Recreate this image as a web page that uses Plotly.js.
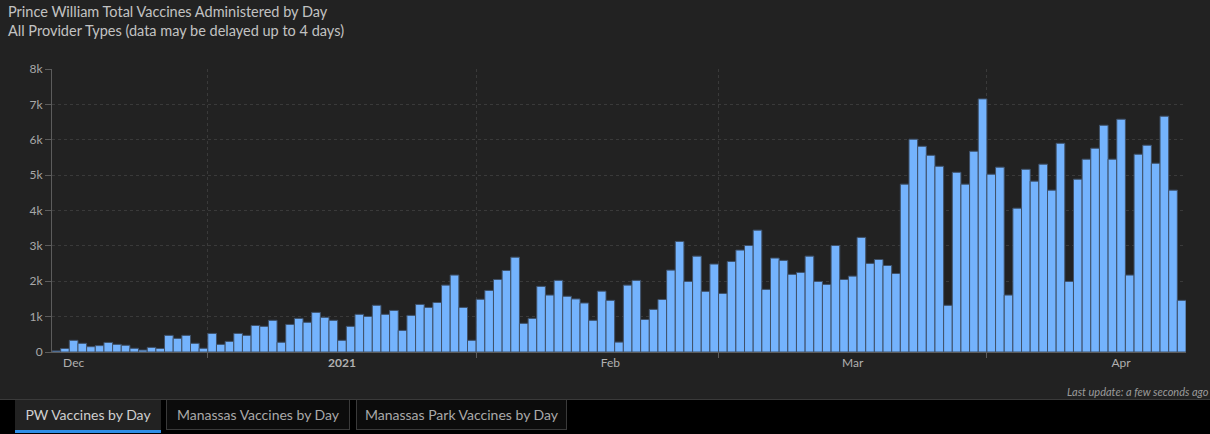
<!DOCTYPE html>
<html>
<head>
<meta charset="utf-8">
<script src="https://cdn.plot.ly/plotly-3.0.1.min.js"></script>
<style>
  html, body { margin: 0; padding: 0; background: #000; width: 1210px; height: 434px; overflow: hidden; font-family: Lato, "Open Sans", sans-serif; }
  #chart { position: absolute; left: 0; top: 0; width: 1210px; height: 399px; background: #222; border-bottom: 1px solid #3a3a3a; }
  .tab { position: absolute; top: 400px; height: 30px; line-height: 30px; text-align: center; font-size: 14px; box-sizing: border-box; }
  #tab1 { left: 15px; width: 146px; background: #222; color: #cfcfcf; border-bottom: 3px solid #2f8fe8; height: 33px; }
  #tab2 { left: 166px; width: 184px; background: #0c0c0c; color: #a9a9a9; border: 1px solid #3a3a3a; border-top: none; }
  #tab3 { left: 356px; width: 211px; background: #0c0c0c; color: #a9a9a9; border: 1px solid #3a3a3a; border-top: none; }
</style>
</head>
<body>
<div id="chart"></div>
<div class="tab" id="tab1">PW Vaccines by Day</div>
<div class="tab" id="tab2">Manassas Vaccines by Day</div>
<div class="tab" id="tab3">Manassas Park Vaccines by Day</div>
<script>
// ---- data (daily vaccine doses administered) ----
const startDate = '2020-12-14';
const dec2020 = [30, 100, 330, 245, 150, 180, 270, 215, 190, 105, 55, 130, 100, 470, 385, 470, 245, 105];
const jan2021 = [525, 215, 300, 525, 470, 750, 725, 895, 275, 780, 950, 840, 1120, 980, 895, 330, 725, 1065, 1005, 1320, 1065, 1175, 610, 1035, 1345, 1260, 1400, 1890, 2175, 1260, 330];
const feb2021 = [1490, 1740, 2050, 2305, 2680, 810, 950, 1855, 1610, 2025, 1575, 1500, 1385, 895, 1720, 1460, 280, 1890, 2025, 920, 1205, 1485, 2315, 3125, 1995, 2710, 1715, 2485];
const mar2021 = [1655, 2560, 2880, 3010, 3445, 1770, 2655, 2590, 2195, 2250, 2710, 1995, 1910, 3010, 2050, 2145, 3240, 2505, 2615, 2445, 2220, 4745, 6015, 5815, 5560, 5250, 1320, 5080, 4745, 5675, 7155];
const apr2021 = [5025, 5225, 1610, 4065, 5165, 4830, 5310, 4575, 5900, 1995, 4885, 5450, 5760, 6410, 5450, 6580, 2175, 5590, 5845, 5335, 6665, 4575, 1460];
const monthStarts = ['2020-12-01', '2021-01-01', '2021-02-01', '2021-03-01', '2021-04-01'];
const monthLabels = ['Dec', '<b>2021</b>', 'Feb', 'Mar', 'Apr'];
const titleText = 'Prince William Total Vaccines Administered by Day';
const subtitleText = 'All Provider Types (data may be delayed up to 4 days)';
const updateText = 'Last update: a few seconds ago';

// ---- build ----
const values = [].concat(dec2020, jan2021, feb2021, mar2021, apr2021);
const DAY = 86400000;
const t0 = Date.parse(startDate + 'T00:00:00Z');
function iso(ms) { return new Date(ms).toISOString().slice(0, 19).replace('T', ' '); }
const dates = values.map((v, i) => iso(t0 + i * DAY + DAY / 2));
const rangeEnd = iso(t0 + values.length * DAY);

// month labels sit half a (31-day) month cell after each month start
const labelVals = monthStarts.map(s => iso(Date.parse(s + 'T00:00:00Z') + 15.5 * DAY));

const W = 1210, H = 399;
const M = { l: 52, r: 24, t: 69, b: 47 };
const PW = W - M.l - M.r, PH = H - M.t - M.b;
const px = x => (x - M.l) / PW;
const py = y => (H - M.b - y) / PH;

const font = 'Lato, "Open Sans", sans-serif';

const trace = {
  type: 'bar',
  x: dates,
  y: values,
  marker: { color: '#74b3fd', line: { color: '#3f5169', width: 1 } },
  hoverinfo: 'x+y'
};

const layout = {
  width: W, height: H,
  margin: M,
  paper_bgcolor: '#222222',
  plot_bgcolor: '#222222',
  bargap: 0,
  showlegend: false,
  font: { family: font, color: '#a8a8a8', size: 12 },
  xaxis: {
    type: 'date',
    range: [iso(t0), rangeEnd],
    tickmode: 'array',
    tickvals: labelVals,
    ticktext: monthLabels,
    ticks: '',
    showgrid: false,
    showline: true,
    linecolor: '#5c5c5c',
    linewidth: 1,
    zeroline: false,
    tickfont: { family: font, size: 12, color: '#b0b0b0' },
    minor: {
      tickmode: 'array',
      tickvals: monthStarts.slice(1),
      ticks: 'outside',
      ticklen: 5,
      tickcolor: '#5c5c5c',
      showgrid: true,
      gridcolor: '#3a3a3a',
      griddash: '3px,3px',
      gridwidth: 1
    },
    fixedrange: true
  },
  yaxis: {
    range: [0, 8000],
    dtick: 1000,
    tick0: 0,
    tickformat: '~s',
    ticks: 'outside',
    ticklen: 6,
    tickcolor: '#5c5c5c',
    showline: true,
    linecolor: '#5c5c5c',
    showgrid: true,
    gridcolor: '#3a3a3a',
    griddash: '3px,3px',
    zeroline: false,
    tickfont: { family: font, size: 12, color: '#a8a8a8' },
    fixedrange: true
  },
  annotations: [
    { text: titleText, xref: 'paper', yref: 'paper', x: px(6), y: py(11), xanchor: 'left', yanchor: 'middle', showarrow: false, font: { family: font, size: 14.5, color: '#c2c2c2' } },
    { text: subtitleText, xref: 'paper', yref: 'paper', x: px(6), y: py(31), xanchor: 'left', yanchor: 'middle', showarrow: false, font: { family: font, size: 14.5, color: '#c2c2c2' } },
    { text: '<i>' + updateText + '</i>', xref: 'paper', yref: 'paper', x: px(1065), y: py(391), xanchor: 'left', yanchor: 'middle', showarrow: false, font: { family: font, size: 11, color: '#9a9a9a' } }
  ]
};

Plotly.newPlot('chart', [trace], layout, { displayModeBar: false, staticPlot: true });
</script>
</body>
</html>
